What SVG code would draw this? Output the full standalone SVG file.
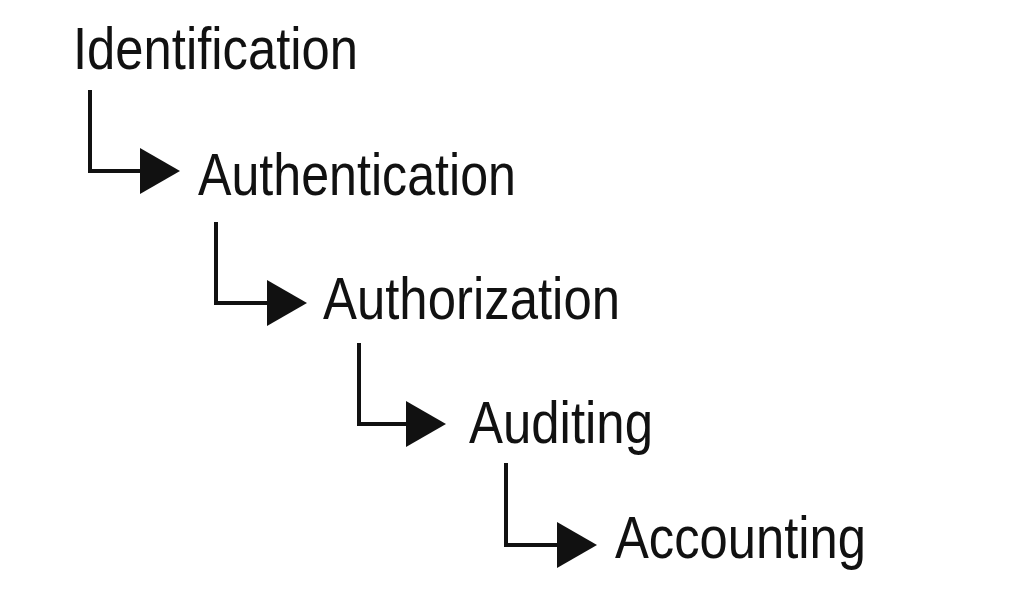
<svg xmlns="http://www.w3.org/2000/svg" width="1023" height="592" viewBox="0 0 1023 592">
<style>
.lbl{font-family:"Liberation Sans","Roboto",sans-serif;font-size:60px;fill:#111;}
.conn{fill:none;stroke:#111;stroke-width:4;stroke-linejoin:miter;}
</style>
<defs>
<marker id="arr" markerUnits="userSpaceOnUse" markerWidth="40" markerHeight="46" refX="0" refY="23" orient="auto" viewBox="0 0 40 46">
<path d="M0,0 L40,23 L0,46 z" fill="#111"/>
</marker>
</defs>
<rect width="1023" height="592" fill="#fff"/>
<g id="connectors">
<path class="conn" d="M90,90 V171 H140" marker-end="url(#arr)"/>
<path class="conn" d="M216,222 V303 H267" marker-end="url(#arr)"/>
<path class="conn" d="M359,343 V424 H406" marker-end="url(#arr)"/>
<path class="conn" d="M506,463 V545 H557" marker-end="url(#arr)"/>
</g>
<g id="identification"><text class="lbl" x="73" y="69" textLength="285" lengthAdjust="spacingAndGlyphs">Identification</text></g>
<g id="authentication"><text class="lbl" x="198" y="195" textLength="318" lengthAdjust="spacingAndGlyphs">Authentication</text></g>
<g id="authorization"><text class="lbl" x="323" y="319" textLength="297" lengthAdjust="spacingAndGlyphs">Authorization</text></g>
<g id="auditing"><text class="lbl" x="469" y="443" textLength="184" lengthAdjust="spacingAndGlyphs">Auditing</text></g>
<g id="accounting"><text class="lbl" x="615" y="558" textLength="251" lengthAdjust="spacingAndGlyphs">Accounting</text></g>
</svg>
